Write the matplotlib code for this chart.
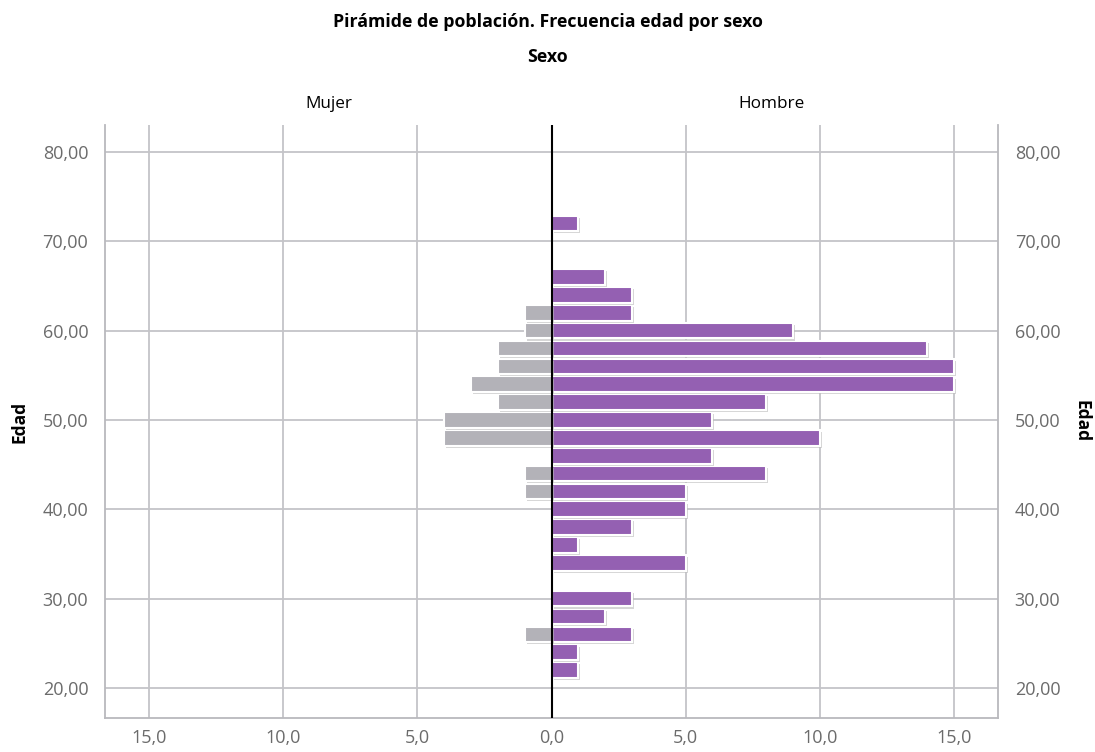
import matplotlib.pyplot as plt
import matplotlib.patheffects as pe
from matplotlib.ticker import FuncFormatter

# edades (centro del intervalo de 2 años)
edades = [22, 24, 26, 28, 30, 34, 36, 38, 40, 42, 44, 46, 48, 50, 52, 54, 56, 58, 60, 62, 64, 66, 72]
hombre = [1, 1, 3, 2, 3, 5, 1, 3, 5, 5, 8, 6, 10, 6, 8, 15, 15, 14, 9, 3, 3, 2, 1]
mujer = [0, 0, 1, 0, 0, 0, 0, 0, 0, 1, 1, 0, 4, 4, 2, 3, 2, 2, 1, 1, 0, 0, 0]
yticks = [20, 30, 40, 50, 60, 70, 80]

plt.rcParams['font.family'] = ['Open Sans', 'DejaVu Sans']

fig = plt.figure(figsize=(10.95, 7.52), dpi=100)
ax = fig.add_axes([105 / 1095, 34 / 752, 893 / 1095, 593 / 752])

sombra = [pe.SimplePatchShadow(offset=(1.5, -1.5), shadow_rgbFace='#bbbbbb', alpha=0.6), pe.Normal()]
bh = ax.barh(edades, hombre, height=1.75, color='#9460b2', edgecolor='white', linewidth=1.5, zorder=3)
bm = ax.barh(edades, [-v for v in mujer], height=1.75, color='#b3b2b8', edgecolor='white', linewidth=1.5, zorder=3)
for b in list(bh) + list(bm):
    if b.get_width() != 0:
        b.set_path_effects(sombra)
    else:
        b.set_visible(False)

fmt_y = FuncFormatter(lambda v, p: f'{v:.2f}'.replace('.', ','))
ax.set_xlim(-16.65, 16.65)
ax.set_ylim(16.64, 83.02)
ax.set_xticks([-15, -10, -5, 0, 5, 10, 15])
ax.set_yticks(yticks)
ax.xaxis.set_major_formatter(FuncFormatter(lambda v, p: f'{abs(v):.1f}'.replace('.', ',')))
ax.yaxis.set_major_formatter(fmt_y)
ax.grid(True, color='#c4c4c8', linewidth=1.3, zorder=0)
ax.axvline(0, color='black', linewidth=1.5, zorder=4)
for s in ['left', 'right', 'bottom']:
    ax.spines[s].set_color('#b9b9bd')
    ax.spines[s].set_linewidth(1.3)
ax.spines['top'].set_visible(False)
ax.tick_params(length=0, labelsize=13, labelcolor='#6b6b6b')
ax.tick_params(axis='x', pad=8)
ax.tick_params(axis='y', pad=12)
ax.set_ylabel('Edad', fontsize=12.5, fontweight='bold', labelpad=10)

ax2 = ax.twinx()
ax2.set_ylim(ax.get_ylim())
ax2.set_yticks(yticks)
ax2.yaxis.set_major_formatter(fmt_y)
ax2.tick_params(length=0, labelsize=13, labelcolor='#6b6b6b', pad=12)
ax2.set_ylabel('Edad', fontsize=12.5, fontweight='bold', rotation=270, labelpad=22)
for s in ax2.spines.values():
    s.set_visible(False)

fig.text(0.5, 1 - 22 / 752, 'Pirámide de población. Frecuencia edad por sexo', ha='center', va='center', fontsize=12.8, fontweight='bold')
fig.text(0.5, 1 - 57 / 752, 'Sexo', ha='center', va='center', fontsize=12.8, fontweight='bold')
fig.text(329 / 1095, 1 - 104 / 752, 'Mujer', ha='center', va='center', fontsize=12.3)
fig.text(771 / 1095, 1 - 104 / 752, 'Hombre', ha='center', va='center', fontsize=12.3)

plt.savefig('out.png', dpi=100)
